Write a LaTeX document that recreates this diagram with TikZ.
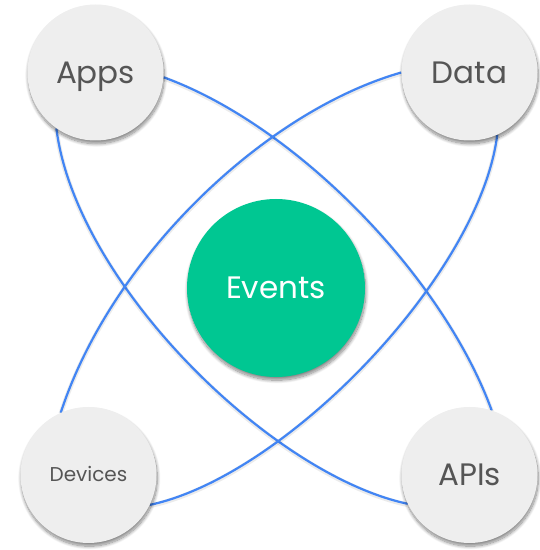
\documentclass[tikz,border=0pt]{standalone}
\usepackage{fontspec}
\setmainfont{Poppins}
\usetikzlibrary{shadows.blur,backgrounds}

\definecolor{hubfill}{HTML}{EEEEEE}
\definecolor{hubtext}{HTML}{555555}
\definecolor{linkblue}{HTML}{4285F4}
\definecolor{coregreen}{HTML}{00C792}

\tikzset{
  softshadow/.style={blur shadow={shadow xshift=0.8pt, shadow yshift=-3.2pt,
      shadow blur radius=3.2pt, shadow blur steps=12, shadow opacity=48}},
  hubnode/.style={circle, fill=hubfill, minimum size=136pt, inner sep=0pt,
      text=hubtext, text depth=0pt, softshadow},
  bigtext/.style={font=\fontsize{31}{34}\selectfont, text height=21.6pt},
  smalltext/.style={font=\fontsize{20}{23}\selectfont, text height=14pt},
  corenode/.style={circle, fill=coregreen, minimum size=178pt, inner sep=0pt,
      text=white, text depth=0pt, text height=21.6pt,
      font=\fontsize{31}{34}\selectfont, softshadow},
  orbit/.style={draw=linkblue, line width=2.2pt,
      preaction={draw=black, draw opacity=0.08, line width=4.5pt,
                 transform canvas={yshift=-1pt}}}
}

\begin{document}
\begin{tikzpicture}[x=1pt,y=1pt]
  \useasboundingbox (0,0) rectangle (540,550);

  % outer sources
  \node[hubnode, bigtext]   (apps)    at (95.5,477.5) {Apps};
  \node[hubnode, bigtext]   (data)    at (469.5,477.5) {Data};
  \node[hubnode, smalltext] (devices) at (88.5,75) {Devices};
  \node[hubnode, bigtext]   (apis)    at (469.5,75) {APIs};

  % central hub
  \node[corenode] (events) at (276,262) {Events};

  % crossing orbits behind the circles
  \begin{scope}[on background layer]
    \draw[orbit] (apps.-4.6)   .. controls +(-20:142) and +(110:142) .. (apis.71);
    \draw[orbit] (apps.235)    .. controls +(-83:155) and +(168:140) .. (apis.205.6);
    \draw[orbit] (data.180)    .. controls +(196:145) and +(72:160)  .. (devices.114);
    \draw[orbit] (data.-66.25) .. controls +(-97:140) and +(12:140)  .. (devices.-26);
  \end{scope}
\end{tikzpicture}
\end{document}
